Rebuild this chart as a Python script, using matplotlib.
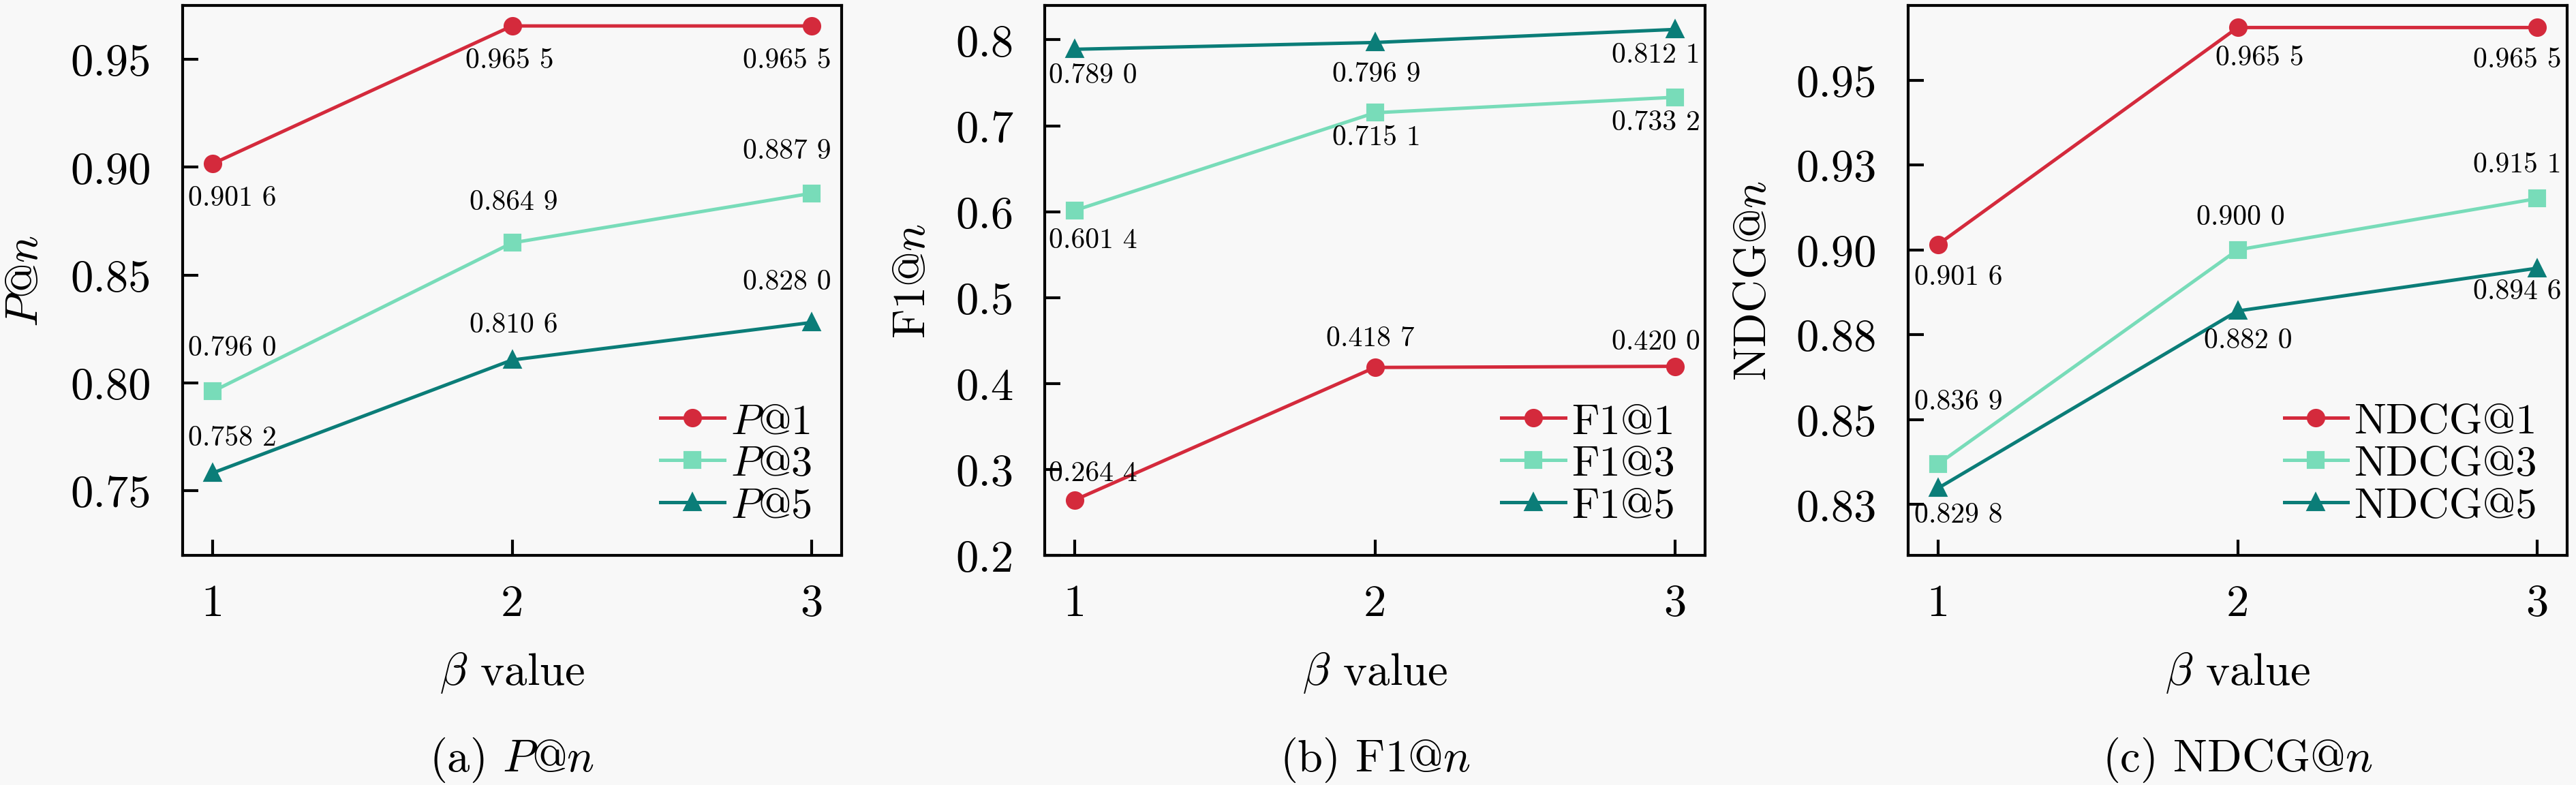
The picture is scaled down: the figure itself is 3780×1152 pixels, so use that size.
import numpy as np
import matplotlib
matplotlib.use('Agg')
from matplotlib import pyplot as plt
from matplotlib.ticker import FixedLocator, FixedFormatter

plt.rcParams['font.family'] = ['cmr10', 'DejaVu Serif']
plt.rcParams['mathtext.fontset'] = 'cm'
plt.rcParams['axes.formatter.use_mathtext'] = True

beta = [1, 2, 3]

# P@n
p_at_1 = [0.9016, 0.9655, 0.9655]
p_at_3 = [0.7960, 0.8649, 0.8879]
p_at_5 = [0.7582, 0.8106, 0.8280]

# F1@n
f1_at_1 = [0.2644, 0.4187, 0.4200]
f1_at_3 = [0.6014, 0.7151, 0.7332]
f1_at_5 = [0.7890, 0.7969, 0.8121]

# NDCG@n
ndcg_at_1 = [0.9016, 0.9655, 0.9655]
ndcg_at_3 = [0.8369, 0.9000, 0.9151]
ndcg_at_5 = [0.8298, 0.8820, 0.8946]

colors = ['#d42a3c', '#78dcb9', '#0b7d78']
markers = ['o', 's', '^']

# text offsets (points) for the value labels, per panel / series / point
offsets_a = [[(7, -12), (-1, -12), (-8.6, -12)],
             [(7, 15.5), (0.5, 14.5), (-8.6, 15)],
             [(7, 12.5), (0.5, 12.5), (-8.6, 14.5)]]
offsets_b = [[(6.5, 9.5), (-1.7, 10.3), (-6.7, 8.6)],
             [(6.5, -10.3), (0.5, -8.6), (-6.7, -8.9)],
             [(6.5, -9.1), (0.5, -11), (-6.7, -8.9)]]
offsets_c = [[(7.2, -11.5), (7.7, -10.6), (-7, -11.3)],
             [(7.2, 22), (1, 11.5), (-7, 12)],
             [(7.2, -9.4), (3.6, -10.3), (-7, -8)]]


def fmt(v):
    s = '%.4f' % v
    return s[:-1] + ' ' + s[-1]


def draw(ax, series, labels, offsets, ylim, yticks, yticklabels, ylabel, ylabel_x):
    for i, vals in enumerate(series):
        ax.plot(beta, vals, color=colors[i], marker=markers[i], markersize=5.5,
                linewidth=1.2, label=labels[i], zorder=3)
        for j, v in enumerate(vals):
            dx, dy = offsets[i][j]
            ax.annotate(fmt(v), (beta[j], v), xytext=(dx, dy), textcoords='offset points',
                        ha='center', va='center', fontsize=10)
    ax.set_xlim(0.9, 3.1)
    ax.set_ylim(*ylim)
    ax.set_xticks(beta)
    ax.set_xticklabels([str(b) for b in beta])
    ax.yaxis.set_major_locator(FixedLocator(yticks))
    ax.yaxis.set_major_formatter(FixedFormatter(yticklabels))
    ax.tick_params(axis='both', direction='in', length=5.6, width=1.0, labelsize=16,
                   top=False, right=False)
    ax.tick_params(axis='x', pad=10)
    ax.tick_params(axis='y', pad=11)
    for sp in ax.spines.values():
        sp.set_linewidth(1.0)
    ax.set_xlabel(r'$\beta$ value', fontsize=16, labelpad=9)
    ax.set_ylabel(ylabel, fontsize=16)
    ax.yaxis.set_label_coords(ylabel_x, 0.5)
    ax.legend(loc='lower right', frameon=False, fontsize=15, handlelength=1.5,
              handletextpad=0.15, labelspacing=0.1, borderaxespad=0.3)
    ax.set_facecolor('#f8f8f8')


fig = plt.figure(figsize=(12.6, 3.8433), dpi=300, facecolor='#f8f8f8')
W, H = 3780.0, 1153.0
bottom = 1 - 816 / H
height = 807 / H

ax_a = fig.add_axes([268 / W, bottom, 967 / W, height])
draw(ax_a, [p_at_1, p_at_3, p_at_5], ['$P$@1', '$P$@3', '$P$@5'], offsets_a,
     (0.72, 0.975), [0.75, 0.80, 0.85, 0.90, 0.95],
     ['0.75', '0.80', '0.85', '0.90', '0.95'], '$P$@$n$', -0.207)

ax_b = fig.add_axes([1533 / W, bottom, 969 / W, height])
draw(ax_b, [f1_at_1, f1_at_3, f1_at_5], ['F1@1', 'F1@3', 'F1@5'], offsets_b,
     (0.2, 0.84), [0.2, 0.3, 0.4, 0.5, 0.6, 0.7, 0.8],
     ['0.2', '0.3', '0.4', '0.5', '0.6', '0.7', '0.8'], 'F1@$n$', -0.168)

ax_c = fig.add_axes([2800 / W, bottom, 967 / W, height])
draw(ax_c, [ndcg_at_1, ndcg_at_3, ndcg_at_5], ['NDCG@1', 'NDCG@3', 'NDCG@5'], offsets_c,
     (0.81, 0.972), [0.825, 0.85, 0.875, 0.90, 0.925, 0.95],
     ['0.83', '0.85', '0.88', '0.90', '0.93', '0.95'], 'NDCG@$n$', -0.203)

captions = ['(a) $P$@$n$', '(b) F1@$n$', '(c) NDCG@$n$']
for ax, cap in zip([ax_a, ax_b, ax_c], captions):
    pos = ax.get_position()
    fig.text(pos.x0 + pos.width / 2, 1 - 1116 / H, cap, ha='center', va='center', fontsize=16)

plt.savefig('out.png', dpi=300, facecolor=fig.get_facecolor())
plt.close()
